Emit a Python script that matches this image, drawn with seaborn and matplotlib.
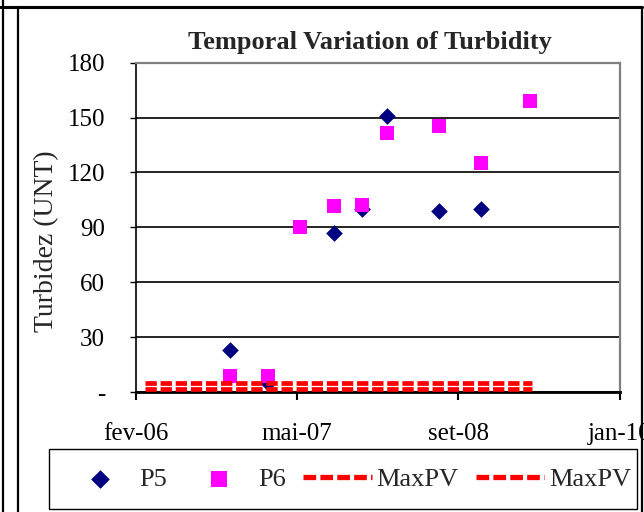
import matplotlib
matplotlib.use("Agg")
import matplotlib.pyplot as plt
import matplotlib.dates as mdates
from matplotlib.lines import Line2D
from matplotlib.patches import Rectangle
import pandas as pd
import seaborn as sns

# Sampling campaigns (dates) and turbidity readings (UNT)
p5_dates = ["2006-11-09", "2007-03-01", "2007-09-14", "2007-12-07",
            "2008-02-18", "2008-07-22", "2008-11-26"]
p5_values = [23, 5, 87, 100, 151, 99, 100]

p6_dates = ["2006-11-09", "2007-03-01", "2007-06-05", "2007-09-14", "2007-12-07",
            "2008-02-18", "2008-07-22", "2008-11-26", "2009-04-20"]
p6_values = [9, 9, 90, 101.5, 102, 141.5, 145.5, 125, 159]

# Maximum permitted values
maxpv_dates = ["2006-03-01", "2009-04-26"]
maxpv_a = [5, 5]
maxpv_b = [1.5, 1.5]

y_ticks = [0, 30, 60, 90, 120, 150, 180]
y_tick_labels = ["-", "30", "60", "90", "120", "150", "180"]
x_tick_dates = ["2006-02-01", "2007-05-27", "2008-09-18", "2010-01-11"]
x_tick_labels = ["fev-06", "mai-07", "set-08", "jan-10"]

sns.set_style("white")
plt.rcParams["font.family"] = ["Liberation Serif", "DejaVu Serif"]

W, H = 644, 512
fig = plt.figure(figsize=(W / 100, H / 100), dpi=100)
fig.patch.set_facecolor("white")

left, right, top, bottom = 135.7, 619.5, 62.7, 392.0
ax = fig.add_axes([left / W, 1 - bottom / H, (right - left) / W, (bottom - top) / H])

p5 = pd.DataFrame({"date": pd.to_datetime(p5_dates), "value": p5_values})
p6 = pd.DataFrame({"date": pd.to_datetime(p6_dates), "value": p6_values})
mx_a = pd.DataFrame({"date": pd.to_datetime(maxpv_dates), "value": maxpv_a})
mx_b = pd.DataFrame({"date": pd.to_datetime(maxpv_dates), "value": maxpv_b})

dash = (0, (2.4, 0.8))
sns.scatterplot(data=p5, x="date", y="value", marker="D", s=72, color="#000080",
                linewidth=0, ax=ax, zorder=3, label="P5")
sns.scatterplot(data=p6, x="date", y="value", marker="s", s=105, color="#FF00FF",
                linewidth=0, ax=ax, zorder=4, label="P6")
sns.lineplot(data=mx_a, x="date", y="value", color="#FF0000", linewidth=3.4,
             linestyle=dash, ax=ax, zorder=5, label="MaxPV")
sns.lineplot(data=mx_b, x="date", y="value", color="#FF0000", linewidth=3.4,
             linestyle=dash, ax=ax, zorder=5, label="MaxPV")

x_ticks = mdates.date2num(pd.to_datetime(x_tick_dates))
ax.set_xlim(x_ticks[0], x_ticks[-1])
ax.set_xticks(x_ticks)
ax.set_xticklabels(x_tick_labels)
ax.set_ylim(y_ticks[0], y_ticks[-1])
ax.set_yticks(y_ticks)
ax.set_yticklabels(y_tick_labels)
ax.set_xlabel("")
ax.set_ylabel("")

ax.yaxis.grid(True, color="black", linewidth=1.2)
ax.xaxis.grid(False)
ax.set_axisbelow(True)

for side in ("top", "right"):
    ax.spines[side].set_color("#808080")
    ax.spines[side].set_linewidth(1.6)
ax.spines["left"].set_color("black")
ax.spines["left"].set_linewidth(1.2)
ax.spines["bottom"].set_color("black")
ax.spines["bottom"].set_linewidth(2.0)

ax.tick_params(axis="x", direction="out", length=6, width=1.5, pad=16,
               labelsize=18, bottom=True, colors="black")
ax.tick_params(axis="y", direction="out", length=4, width=1.0, pad=18,
               labelsize=18, left=True, colors="black")

fig.text(370 / W, 1 - 49 / H, "Temporal Variation of Turbidity",
         ha="center", va="baseline", fontsize=19, fontweight="bold")
fig.text(47 / W, 1 - 241 / H, "Turbidez (UNT)", rotation=90,
         ha="center", va="center", fontsize=20)

# Legend entries in one row, framed by a plain black box
handles, labels = ax.get_legend_handles_labels()
if ax.get_legend() is not None:
    ax.get_legend().remove()
leg = fig.legend(handles, labels, ncol=4, loc="center left",
                 bbox_to_anchor=(66 / W, 1 - 479 / H), frameon=False,
                 fontsize=19, handlelength=2.6, handletextpad=0.18,
                 columnspacing=0.66, borderpad=0, borderaxespad=0)
leg.legend_handles[0].set_sizes([90])
leg.legend_handles[1].set_sizes([130])
for h in leg.legend_handles[2:]:
    h.set_linewidth(3.8)

fig.add_artist(Rectangle((49 / W, 1 - 509 / H), (637 - 49) / W, (509 - 449) / H,
                         transform=fig.transFigure, fill=False,
                         edgecolor="black", linewidth=1.0))


def frame_line(x0, y0, x1, y1, lw=1.6):
    fig.add_artist(Line2D([x0 / W, x1 / W], [1 - y0 / H, 1 - y1 / H],
                          transform=fig.transFigure, color="black", linewidth=lw))


frame_line(3, 0, 3, H)
frame_line(17.5, 7, 17.5, H)
frame_line(0, 7, 642, 7, lw=2.2)
frame_line(641.5, 7, 641.5, H)

fig.savefig("out.png", dpi=100)
